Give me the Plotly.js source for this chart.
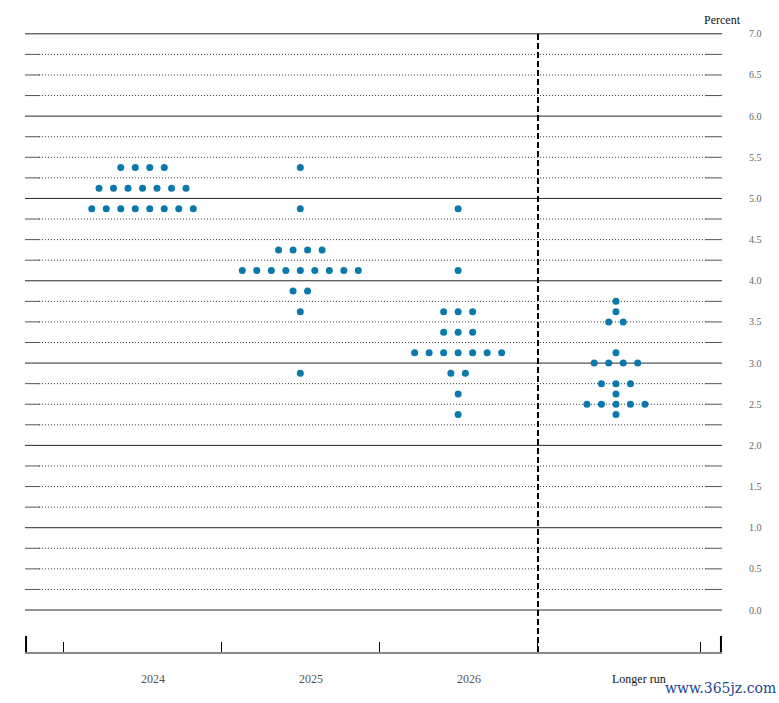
<!DOCTYPE html>
<html>
<head>
<meta charset="utf-8">
<script src="https://cdn.plot.ly/plotly-3.0.1.min.js"></script>
<style>html,body{margin:0;padding:0;background:#fff}#chart{width:779px;height:703px}</style>
</head>
<body>
<div id="chart"></div>
<script>
// ---- data ----
const categories = ['2024', '2025', '2026', 'Longer run'];
const rates2024 = [5.375, 5.125, 4.875];
const counts2024 = [4, 7, 8];
const rates2025 = [5.375, 4.875, 4.375, 4.125, 3.875, 3.625, 2.875];
const counts2025 = [1, 1, 4, 9, 2, 1, 1];
const rates2026 = [4.875, 4.125, 3.625, 3.375, 3.125, 2.875, 2.625, 2.375];
const counts2026 = [1, 1, 3, 3, 7, 2, 1, 1];
const ratesLR = [3.75, 3.625, 3.5, 3.125, 3.0, 2.75, 2.625, 2.5, 2.375];
const countsLR = [1, 1, 2, 1, 4, 3, 1, 5, 1];
const yTickVals = [0, 0.5, 1, 1.5, 2, 2.5, 3, 3.5, 4, 4.5, 5, 5.5, 6, 6.5, 7];

const seriesRates = [rates2024, rates2025, rates2026, ratesLR];
const seriesCounts = [counts2024, counts2025, counts2026, countsLR];

// ---- layout helpers ----
const dotStep = 0.0919;           // horizontal spacing between dots (axis units)
const xs = [], ys = [];
seriesRates.forEach((rates, ci) => {
  rates.forEach((r, k) => {
    const n = seriesCounts[ci][k];
    for (let i = 0; i < n; i++) {
      xs.push(ci + (i - (n - 1) / 2) * dotStep);
      ys.push(r);
    }
  });
});

const shapes = [];
for (let v = 0; v <= 7.0001; v += 0.25) {
  const isInt = Math.abs(v - Math.round(v)) < 1e-6;
  if (isInt) {
    shapes.push({type: 'line', xref: 'paper', yref: 'y', x0: 0, x1: 1, y0: v, y1: v,
      line: {color: '#2a2a2a', width: 1}, layer: 'below'});
  } else {
    shapes.push({type: 'line', xref: 'paper', yref: 'y', x0: 0.02, x1: 0.978, y0: v, y1: v,
      line: {color: '#333', width: 1, dash: '1px,2px'}, layer: 'below'});
    shapes.push({type: 'line', xref: 'paper', yref: 'y', x0: 0, x1: 0.022, y0: v, y1: v,
      line: {color: '#555', width: 1}, layer: 'below'});
    shapes.push({type: 'line', xref: 'paper', yref: 'y', x0: 0.976, x1: 1, y0: v, y1: v,
      line: {color: '#555', width: 1}, layer: 'below'});
  }
}
// vertical dashed separator before "Longer run"
shapes.push({type: 'line', xref: 'x', yref: 'y', x0: 2.506, x1: 2.506, y0: -0.51, y1: 7.0,
  line: {color: '#000', width: 2, dash: '6px,3px'}});
// long end ticks at both ends of the bottom axis
shapes.push({type: 'line', xref: 'paper', yref: 'paper', x0: 0.0015, x1: 0.0015, y0: 0, y1: 0.026,
  line: {color: '#000', width: 2}});
shapes.push({type: 'line', xref: 'paper', yref: 'paper', x0: 0.9985, x1: 0.9985, y0: 0, y1: 0.026,
  line: {color: '#000', width: 2}});

const labelShift = [10, 11, 11, 23];
const annotations = categories.map((c, i) => ({
  x: i, xref: 'x', y: 0, yref: 'paper', yshift: -27, xshift: labelShift[i],
  text: c, showarrow: false, xanchor: 'center', yanchor: 'middle',
  font: {family: 'Liberation Serif, serif', size: 12, color: i === 3 ? '#111' : '#555'}
}));
annotations.push({x: 1, xref: 'paper', y: 1, yref: 'paper', yshift: 13, text: 'Percent',
  showarrow: false, xanchor: 'center', yanchor: 'middle',
  font: {family: 'Liberation Serif, serif', size: 12, color: '#111'}});
annotations.push({x: 1, xref: 'paper', y: 0, yref: 'paper', xshift: 56, yshift: -36, text: 'www.365jz.com',
  showarrow: false, xanchor: 'right', yanchor: 'middle',
  font: {family: 'DejaVu Serif, serif', size: 14, color: '#1d4593'}});

const trace = {
  type: 'scatter', mode: 'markers', x: xs, y: ys, cliponaxis: false, hoverinfo: 'skip',
  marker: {size: 7, color: '#0a78ab', line: {width: 0}}
};

const layout = {
  width: 779, height: 703,
  margin: {l: 25, r: 57, t: 33, b: 51},
  paper_bgcolor: '#fff', plot_bgcolor: '#fff',
  showlegend: false,
  xaxis: {
    range: [-0.7446, 3.672], showgrid: false, zeroline: false,
    showline: true, linecolor: '#8a8a8a', linewidth: 2,
    ticks: 'inside', ticklen: 10, tickcolor: '#000', tickwidth: 1,
    tickvals: [-0.5, 0.5, 1.5, 2.5, 3.533], showticklabels: false, fixedrange: true
  },
  yaxis: {
    range: [-0.51, 7.01], side: 'right', showgrid: false, zeroline: false, showline: false,
    tickvals: yTickVals, tickformat: '.1f', ticks: '', ticklabelstandoff: 26,
    tickfont: {family: 'Liberation Serif, serif', size: 10, color: '#666'}, fixedrange: true
  },
  shapes: shapes,
  annotations: annotations
};

Plotly.newPlot('chart', [trace], layout, {displayModeBar: false, staticPlot: true});
</script>
</body>
</html>
